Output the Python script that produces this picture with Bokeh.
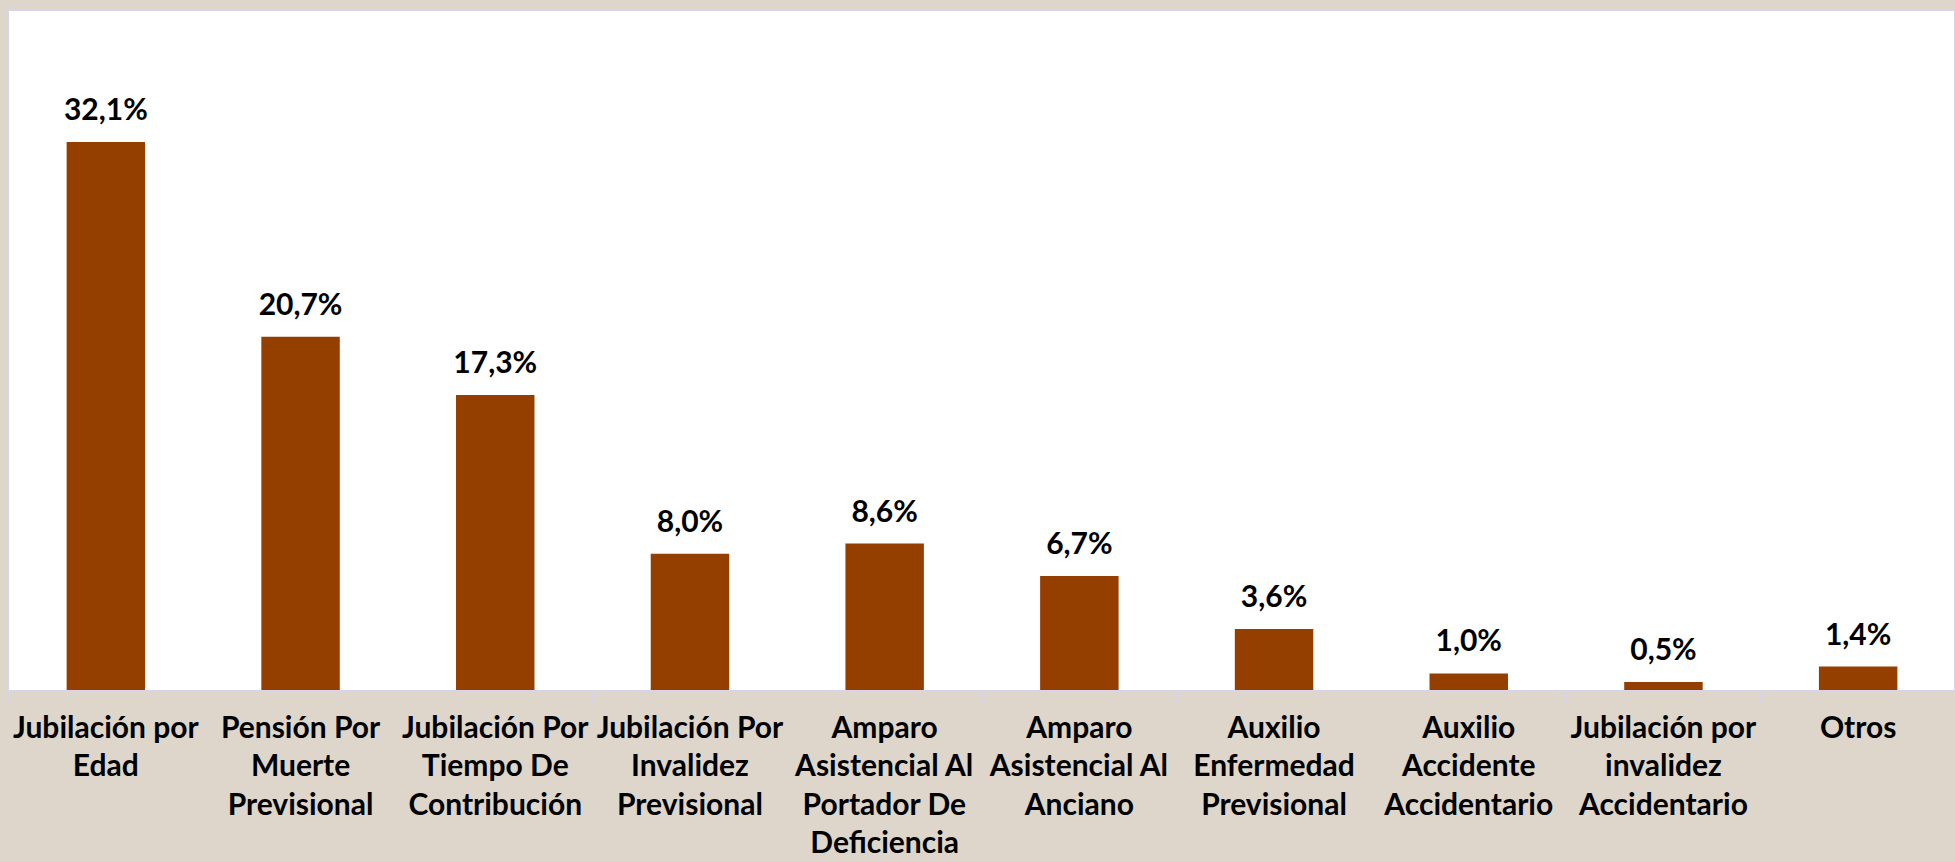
from bokeh.plotting import figure
from bokeh.models import ColumnDataSource, LabelSet, LinearAxis, Range1d, FixedTicker
from bokeh.core.properties import value
from bokeh.embed import file_html
from bokeh.resources import INLINE

categories = [
    "Jubilación por\nEdad",
    "Pensión Por\nMuerte\nPrevisional",
    "Jubilación Por\nTiempo De\nContribución",
    "Jubilación Por\nInvalidez\nPrevisional",
    "Amparo\nAsistencial Al\nPortador De\nDeficiencia",
    "Amparo\nAsistencial Al\nAnciano",
    "Auxilio\nEnfermedad\nPrevisional",
    "Auxilio\nAccidente\nAccidentario",
    "Jubilación por\ninvalidez\nAccidentario",
    "Otros",
]
values = [32.1, 20.7, 17.3, 8.0, 8.6, 6.7, 3.6, 1.0, 0.5, 1.4]
value_labels = [f"{v:.1f}%".replace(".", ",") for v in values]

BAR = "#943e00"
BG = "#ded6ca"
LINE = "#d8d4ec"
FONT = "Lato"

n = len(categories)
centers = [i + 0.5 for i in range(n)]
bounds = list(range(n + 1))
src = ColumnDataSource(dict(x=centers, val=values, lab=value_labels))

p = figure(
    x_range=Range1d(0, n),
    y_range=Range1d(0, 39.8),
    width=1955,
    height=862,
    output_backend="svg",
    toolbar_location=None,
    x_axis_location=None,
    y_axis_location=None,
    min_border_left=8,
    min_border_right=0,
    min_border_top=10,
    min_border_bottom=0,
)
p.background_fill_color = "white"
p.border_fill_color = BG
p.outline_line_color = LINE
p.grid.visible = False

p.vbar(x="x", top="val", width=0.403, source=src, fill_color=BAR, line_color=None)

labels = LabelSet(
    x="x", y="val", text="lab", source=src,
    y_offset=16, text_align="center", text_baseline="bottom",
    text_font=value(FONT), text_font_style="bold", text_font_size="30px", text_color="black",
)
p.add_layout(labels)

# category axis: labels at centres, boundary ticks drawn as minor ticks
xaxis = LinearAxis(ticker=FixedTicker(ticks=centers, minor_ticks=bounds))
xaxis.major_label_overrides = {c: lab for c, lab in zip(centers, categories)}
xaxis.axis_line_color = LINE
xaxis.major_tick_line_color = None
xaxis.major_tick_in = 0
xaxis.major_tick_out = 12
xaxis.minor_tick_line_color = LINE
xaxis.minor_tick_in = 0
xaxis.minor_tick_out = 12
xaxis.major_label_standoff = 5
xaxis.major_label_text_font = FONT
xaxis.major_label_text_font_style = "bold"
xaxis.major_label_text_font_size = "30px"
xaxis.major_label_text_color = "black"
xaxis.major_label_text_line_height = 1.07
p.add_layout(xaxis, "below")

html = file_html(p, INLINE)
html = html.replace(
    "</head>",
    "<style>html, body { background-color: %s; overflow: hidden; }</style>\n</head>" % BG,
    1,
)
open("out.html", "w").write(html)
